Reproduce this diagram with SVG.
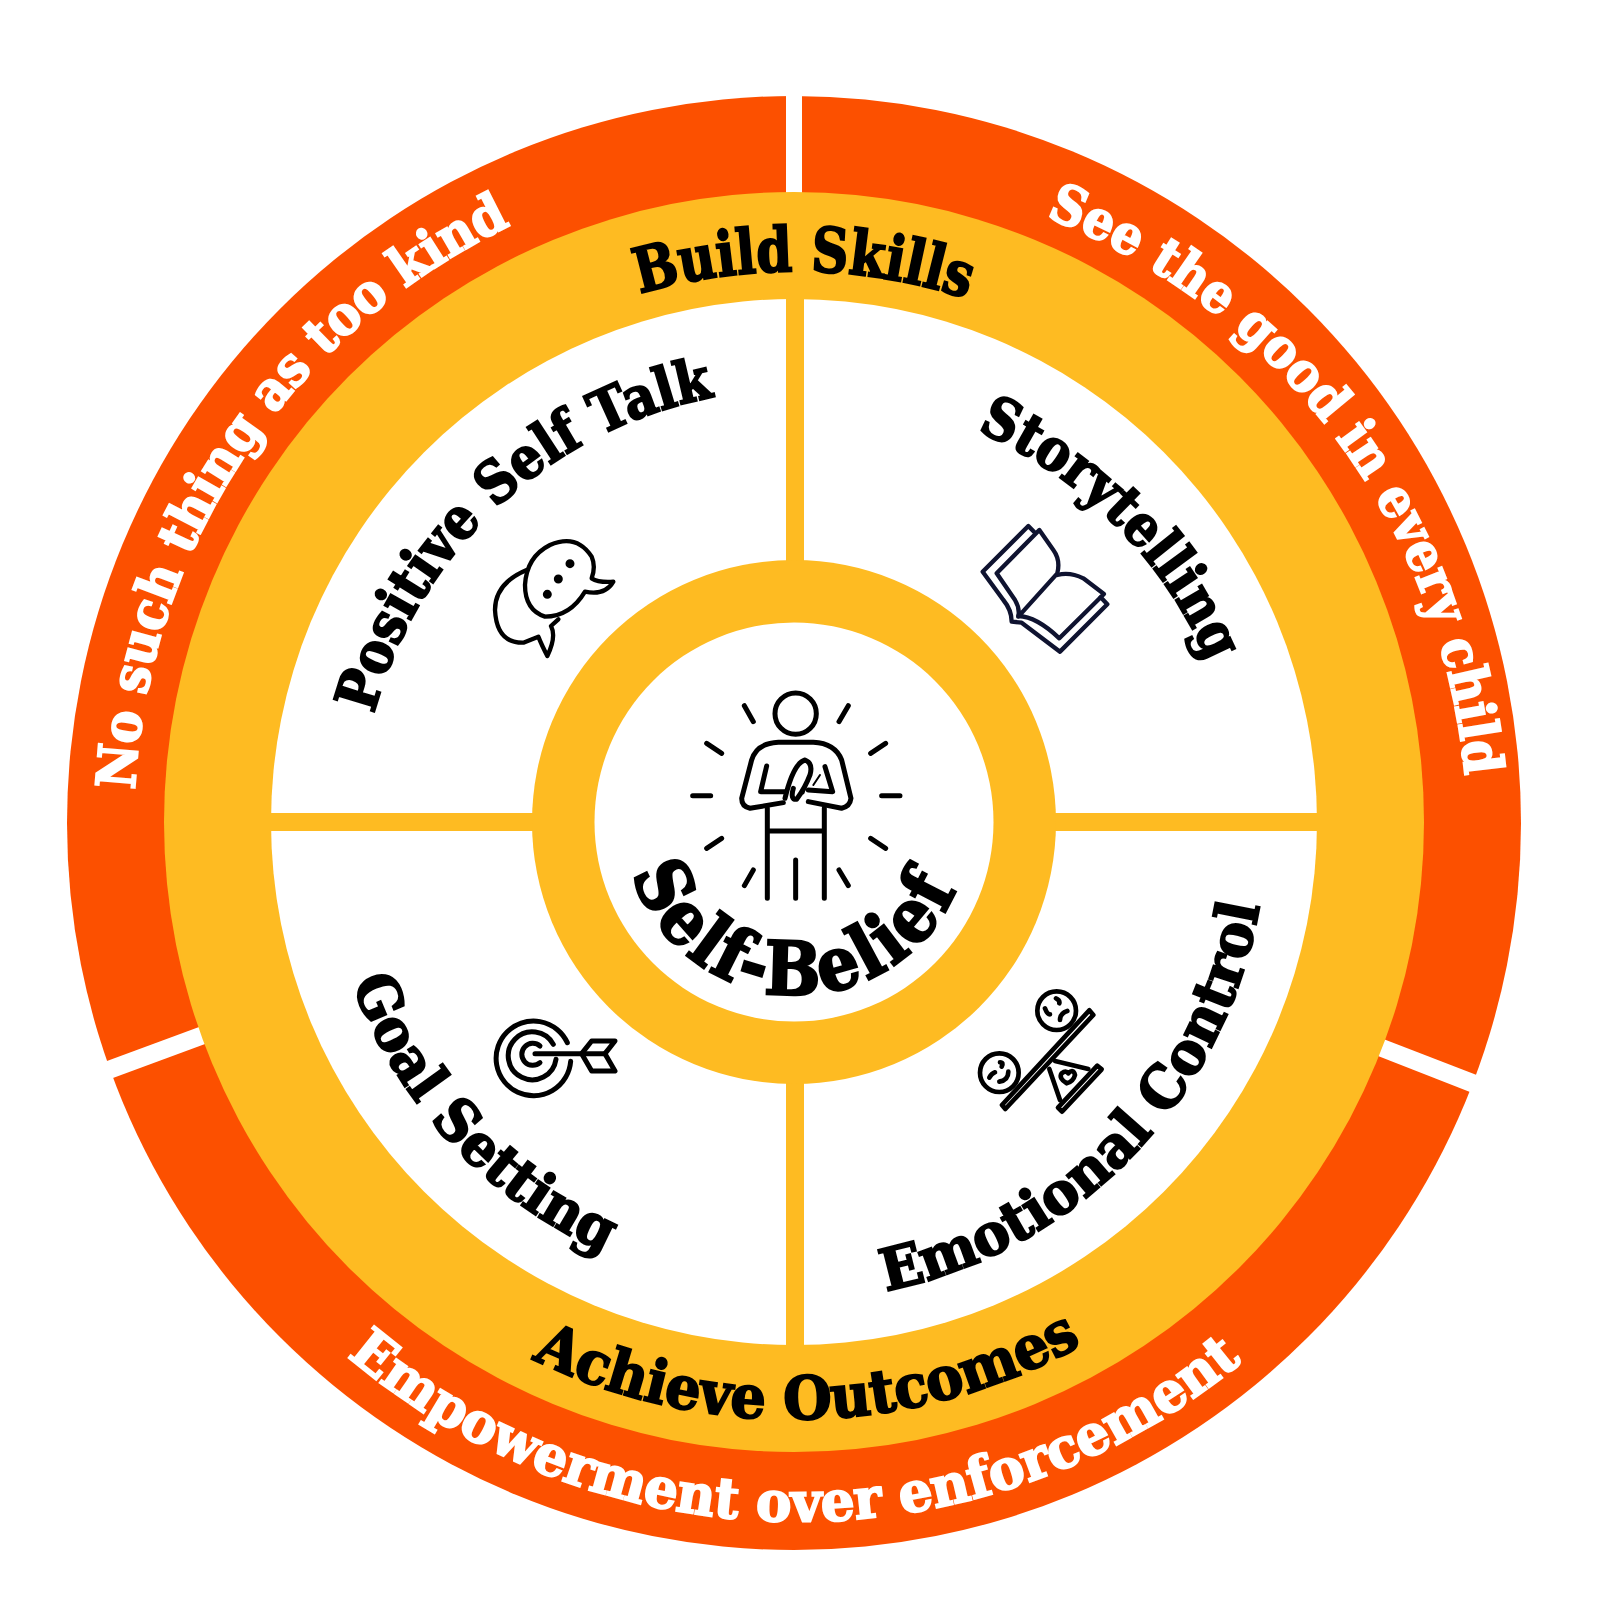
<svg xmlns="http://www.w3.org/2000/svg" width="1600" height="1600" viewBox="0 0 1600 1600">
<style>
.t{font-family:"DejaVu Serif Condensed","DejaVu Serif","Liberation Serif",serif;font-weight:700;font-stretch:condensed}
.w{fill:#fff;stroke:#fff;stroke-width:2}
.k{fill:#000;stroke:#000;stroke-width:2}
.i{fill:none;stroke:#000;stroke-linecap:round;stroke-linejoin:round}
</style>
<defs>
<path id="p1" d="M135 790A661 661 0 0 1 527 218"/>
<path id="p2" d="M1046 217A664 664 0 0 1 1465 778"/>
<path id="p3" d="M347 1356A697 697 0 0 0 1249 1356"/>
<path id="p4" d="M640 294A550 550 0 0 1 968 299"/>
<path id="p5" d="M532 1359A597 597 0 0 0 1084 1344"/>
<path id="p6" d="M374 714A436 436 0 0 1 715 397"/>
<path id="p7" d="M977 431A440 440 0 0 1 1212 672"/>
<path id="p8" d="M352 983A470 470 0 0 0 606 1253"/>
<path id="p9" d="M886 1291A476 476 0 0 0 1260 904"/>
<path id="p10" d="M632 874A173 173 0 0 0 962 874"/>
</defs>
<rect width="1600" height="1600" fill="#fff"/>
<g id="rings">
<circle cx="794" cy="823" r="727" fill="#fc5000"/>
<rect x="786" y="80" width="16" height="120" fill="#fff"/>
<polygon points="88,1068 218,1020 224,1037 94,1085" fill="#fff"/>
<polygon points="1360,1030 1500,1084 1493,1101 1355,1047" fill="#fff"/>
<circle cx="794" cy="822" r="630" fill="#febb22"/>
<circle cx="794" cy="822" r="523" fill="#fff"/>
<rect x="786" y="290" width="18" height="1064" fill="#febb22"/>
<rect x="262" y="813" width="1064" height="18" fill="#febb22"/>
<circle cx="794" cy="822" r="262" fill="#febb22"/>
<circle cx="794" cy="822" r="199.5" fill="#fff"/>
</g>
<g id="outer-labels">
<text class="t w" font-size="54"><textPath href="#p1" textLength="712" lengthAdjust="spacingAndGlyphs">No such thing as too kind</textPath></text>
<text class="t w" font-size="54"><textPath href="#p2" textLength="735" lengthAdjust="spacingAndGlyphs">See the good in every child</textPath></text>
<text class="t w" font-size="56"><textPath href="#p3" textLength="972" lengthAdjust="spacingAndGlyphs">Empowerment over enforcement</textPath></text>
</g>
<g id="band-labels">
<text class="t k" font-size="62"><textPath href="#p4" textLength="332" lengthAdjust="spacingAndGlyphs">Build Skills</textPath></text>
<text class="t k" font-size="60"><textPath href="#p5" textLength="572" lengthAdjust="spacingAndGlyphs">Achieve Outcomes</textPath></text>
</g>
<g id="positive-self-talk">
<text class="t k" font-size="58"><textPath href="#p6" textLength="490" lengthAdjust="spacingAndGlyphs">Positive Self Talk</textPath></text>
<g class="i" stroke-width="13" transform="translate(470 520) scale(.3333)">
<path d="M365 175Q385 188 430 185Q405 228 345 215Q300 290 225 290Q165 270 165 195Q170 110 240 75Q320 40 365 110Q378 140 365 175Z"/>
<path d="M170 150Q75 190 75 270Q80 370 160 368L205 350Q215 375 232 408Q260 350 243 318L265 298"/>
<circle cx="300" cy="131" r="7" fill="#000"/><circle cx="265" cy="177" r="7" fill="#000"/><circle cx="232" cy="223" r="7" fill="#000"/>
</g>
</g>
<g id="storytelling">
<text class="t k" font-size="58"><textPath href="#p7" textLength="335" lengthAdjust="spacingAndGlyphs">Storytelling</textPath></text>
<g class="i" style="stroke:#0f1330" stroke-width="13" transform="translate(970 510) scale(.3333)">
<path d="M192 65L175 48L38 185L100 270Q125 300 125 335L155 338L270 425L412 283L392 262"/>
<path d="M208 60L80 190L135 270Q150 295 145 320L262 190Q272 150 250 120Z"/>
<path d="M145 318Q200 320 268 385L402 252L340 205Q300 185 262 195"/>
</g>
</g>
<g id="goal-setting">
<text class="t k" font-size="58"><textPath href="#p8" textLength="380" lengthAdjust="spacingAndGlyphs">Goal Setting</textPath></text>
<g class="i" stroke-width="15" transform="translate(480 996) scale(.3333)">
<path d="M272 196A112 112 0 1 1 262 140"/>
<path d="M228 190A72 72 0 1 1 220 145"/>
<path d="M180 200A33 33 0 1 1 180 150"/>
<path d="M165 173H375"/>
<path d="M305 173L335 135H405L375 173L405 225H335Z"/>
</g>
</g>
<g id="emotional-control">
<text class="t k" font-size="58"><textPath href="#p9" textLength="570" lengthAdjust="spacingAndGlyphs">Emotional Control</textPath></text>
<g class="i" stroke-width="14" transform="translate(960 975) scale(.3333)">
<circle cx="290" cy="107" r="58"/><circle cx="118" cy="293" r="58"/>
<path d="M126 390L136 402L400 120L388 106Z" stroke-width="14"/>
<path d="M294 398L306 410L425 283L412 272Z" stroke-width="14"/>
<path d="M268 282L300 375M285 258L385 282"/>
<path d="M320 325Q295 310 305 295Q318 285 325 295Q340 280 345 300Q340 320 320 325Z"/>
<path d="M288 70Q300 75 298 85M255 100Q262 118 270 118M322 108Q300 115 300 135"/>
<path d="M120 262Q132 262 125 275M88 308Q95 295 105 292M118 320Q145 315 145 290"/>
</g>
</g>
<g id="self-belief">
<text class="t k" font-size="74" style="stroke-width:2.5"><textPath href="#p10" textLength="422" lengthAdjust="spacing">Self-Belief</textPath></text>
<g class="i" stroke-width="15" transform="translate(650 660) scale(.3333)">
<circle cx="437" cy="161" r="62"/>
<path d="M283 137L310 185M595 137L567 185M170 250L215 280M707 250L662 280M128 407H182M695 407H750M170 565L215 535M707 565L662 535M283 677L310 630M595 677L567 630"/>
<path d="M400 428L300 445Q275 440 275 415L305 300Q320 250 385 247H490Q555 250 575 300L603 415Q600 440 575 445L475 425"/>
<path d="M350 318L332 395H405M525 320L548 395L475 390"/>
<path d="M405 415Q430 310 465 300Q490 310 480 345Q465 385 440 418Q420 420 430 385"/>
<path d="M352 445V715M523 445V715M437 600V715M352 513H523"/>
<path d="M460 400L475 360M490 375L510 345" stroke-width="6"/>
</g>
</g>
</svg>
